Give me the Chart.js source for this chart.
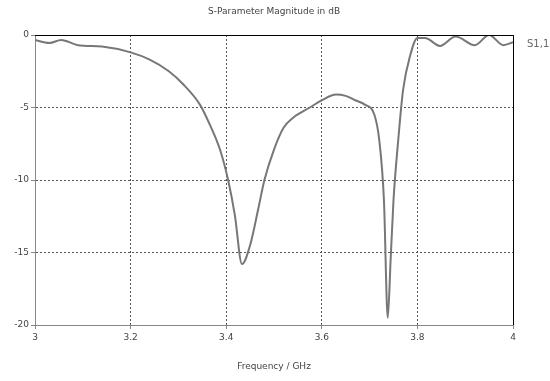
<!DOCTYPE html>
<html>
<head>
<meta charset="utf-8">
<script src="https://cdn.jsdelivr.net/npm/chart.js@4/dist/chart.umd.min.js"></script>
<style>
  html, body { margin: 0; padding: 0; background: #fff; }
  #wrap { width: 550px; height: 381px; }
</style>
</head>
<body>
<div id="wrap"><canvas id="sparam" width="550" height="381"></canvas></div>
<script>
// frequency in GHz, S1,1 magnitude in dB
const freq = [3.0, 3.03, 3.055, 3.09, 3.14, 3.2, 3.24, 3.28, 3.31, 3.345, 3.366, 3.387, 3.404, 3.418, 3.433,
    3.45, 3.467, 3.48, 3.5, 3.52, 3.54, 3.575, 3.6, 3.63, 3.65, 3.67, 3.69, 3.71, 3.72, 3.73, 3.738,
    3.744, 3.75, 3.76, 3.77, 3.785, 3.8, 3.816, 3.847, 3.88, 3.92, 3.95, 3.98, 4.0];
const s11 = [-0.35, -0.55, -0.35, -0.7, -0.8, -1.2, -1.7, -2.5, -3.4, -4.8, -6.2, -7.9, -10, -12.4, -15.8,
    -14.5, -12, -10, -7.9, -6.4, -5.7, -5.0, -4.5, -4.1, -4.2, -4.5, -4.8, -5.5, -7.2, -11.4, -19.5,
    -15.5, -11.4, -7.2, -3.8, -1.4, -0.2, -0.2, -0.75, -0.1, -0.7, 0, -0.7, -0.5];
const xTicks = [3, 3.2, 3.4, 3.6, 3.8, 4];
const yTicks = [0, -5, -10, -15, -20];

const FONT = 'DejaVu Sans';

const frame = {
    id: 'frame',
    afterDraw(chart) {
        const { ctx, chartArea: a } = chart;
        ctx.save();
        // solid top and right edges
        ctx.strokeStyle = '#000';
        ctx.lineWidth = 1;
        ctx.beginPath();
        ctx.moveTo(a.left, a.top + 0.5);
        ctx.lineTo(a.right + 0.5, a.top + 0.5);
        ctx.lineTo(a.right + 0.5, a.bottom);
        ctx.stroke();
        ctx.fillStyle = '#444';
        ctx.font = '9px ' + FONT;
        ctx.textAlign = 'center';
        ctx.textBaseline = 'middle';
        ctx.fillText('S-Parameter Magnitude in dB', (a.left + a.right) / 2, 12);
        ctx.fillText('Frequency / GHz', (a.left + a.right) / 2, 367);
        ctx.textAlign = 'left';
        ctx.fillStyle = '#666';
        ctx.font = '10px ' + FONT;
        ctx.fillText('S1,1', a.right + 14, 44);
        ctx.restore();
    }
};

new Chart(document.getElementById('sparam'), {
    type: 'scatter',
    data: {
        datasets: [{
            label: 'S1,1',
            data: freq.map((f, i) => ({ x: f, y: s11[i] })),
            showLine: true,
            borderColor: '#777',
            borderWidth: 2,
            pointRadius: 0,
            tension: 0.4,
            cubicInterpolationMode: 'monotone'
        }]
    },
    options: {
        responsive: false,
        animation: false,
        layout: { padding: { top: 35, right: 37, left: 0, bottom: 0 } },
        plugins: { legend: { display: false }, tooltip: { enabled: false } },
        scales: {
            x: {
                type: 'linear', min: 3, max: 4,
                afterBuildTicks: s => { s.ticks = xTicks.map(v => ({ value: v })); },
                afterFit: s => { s.height = 56; },
                grid: { color: '#555', tickLength: 4, tickColor: '#888' },
                border: { color: '#888', width: 1, dash: [2, 2] },
                ticks: {
                    color: '#444', font: { family: FONT, size: 9 }, padding: 3, maxRotation: 0,
                    callback: v => String(+v.toFixed(1))
                }
            },
            y: {
                min: -20, max: 0,
                afterBuildTicks: s => { s.ticks = yTicks.map(v => ({ value: v })); },
                afterFit: s => { s.width = 35; },
                grid: { color: '#555', tickLength: 4, tickColor: '#888' },
                border: { color: '#888', width: 1, dash: [2, 2] },
                ticks: { color: '#444', font: { family: FONT, size: 9 }, padding: 2 }
            }
        }
    },
    plugins: [frame]
});
</script>
</body>
</html>
